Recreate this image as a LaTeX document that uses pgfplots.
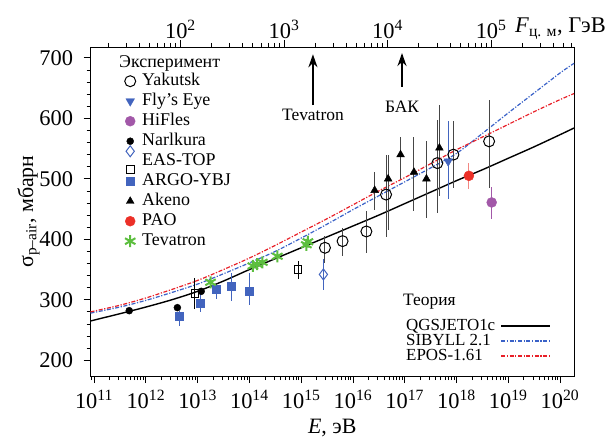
\documentclass[border=0pt]{standalone}
\usepackage{fontspec}
\setmainfont{Liberation Serif}
\usepackage{pgfplots}
\pgfplotsset{compat=1.18}
\usetikzlibrary{arrows.meta}

\definecolor{cblue}{RGB}{66,100,190}
\definecolor{cpurple}{RGB}{162,88,168}
\definecolor{cred}{RGB}{236,48,40}
\definecolor{cpink}{RGB}{242,135,130}
\definecolor{cgreen}{RGB}{92,190,62}
\definecolor{cgray}{RGB}{70,70,70}
\definecolor{sibblue}{RGB}{58,98,200}
\definecolor{eposred}{RGB}{232,32,40}

\pgfplotsset{
  mk/.style={only marks,
    legend image code/.code={\path[use as bounding box, draw=none, fill=none] (-5bp,-4bp) rectangle (5bp,4bp);
      \draw[overlay,##1] plot coordinates {(0bp,0bp)};}},
  ebar/.style={error bars/y dir=both, error bars/y explicit, error bars/error mark=none,
    error bars/error bar style={line width=1bp, color=#1}},
}

\begin{document}
\begin{tikzpicture}
\path[use as bounding box] (-90.5bp,-65bp) rectangle (519.5bp,376bp);
\begin{axis}[
  at={(0,0)}, anchor=south west, scale only axis,
  width=483.5bp, height=329bp,
  xmode=log, xmin=8.55e10, xmax=1.862e20,
  ymin=174, ymax=718,
  clip=false,
  axis line style={line width=0.8bp},
  every tick/.style={black, line width=0.8bp},
  major tick length=7bp, minor tick length=4bp,
  tick align=outside,
  xtick pos=bottom, ytick pos=left,
  ytick={200,300,400,500,600,700},
  yticklabels={200,300,400,500,600,700},
  minor y tick num=4,
  log number format basis/.code 2 args={#1\textsuperscript{\pgfmathprintnumber[assume math mode=true]{#2}}},
  tick label style={font=\fontsize{22.5}{24}\selectfont},
  xticklabel shift=4bp, yticklabel shift=7bp,
  xlabel={\textit{E}, эВ},
  ylabel={σ\textsubscript{p–air}, мбарн},
  xlabel shift=4bp, ylabel shift=-7bp,
  label style={font=\fontsize{22}{24}\selectfont},
  legend style={draw=none, fill=none, at={(rel axis cs:0.0652,0.927)}, anchor=north west,
    font=\fontsize{18}{18}\selectfont, row sep=4bp, column sep=7bp,
    nodes={inner sep=0pt, text height=12bp, text depth=4bp}},
  legend cell align=left,
]
% theory curves
\addplot[black, line width=1.4bp, smooth, forget plot] coordinates {
(8.55e10,265) (3.16e11,277) (1e12,288) (3.16e12,300) (1e13,314) (3.16e13,331)
(1e14,350) (3.16e14,368) (1e15,386) (3.16e15,404) (1e16,422) (3.16e16,440)
(1e17,459) (3.16e17,478) (1e18,497) (3.16e18,515) (1e19,534) (3.16e19,553)
(1e20,573) (1.862e20,584)};
\addplot[sibblue, line width=1.2bp, dash pattern=on 4bp off 1.6bp on 1.2bp off 1.6bp, smooth, forget plot] coordinates {
(8.55e10,278) (3.16e11,288) (1e12,299) (3.16e12,312) (1e13,326) (3.16e13,343)
(1e14,361) (3.16e14,380) (1e15,402) (3.16e15,425) (1e16,449) (3.16e16,472)
(1e17,495) (3.16e17,518) (1e18,542) (3.16e18,575) (1e19,609) (3.16e19,642)
(1e20,675) (1.862e20,691)};
\addplot[eposred, line width=1.2bp, dash pattern=on 4bp off 1.6bp on 1.2bp off 1.6bp, smooth, forget plot] coordinates {
(8.55e10,280) (3.16e11,291) (1e12,303) (3.16e12,317) (1e13,332) (3.16e13,350)
(1e14,369) (3.16e14,390) (1e15,412) (3.16e15,434) (1e16,457) (3.16e16,480)
(1e17,502) (3.16e17,525) (1e18,548) (3.16e18,569) (1e19,590) (3.16e19,611)
(1e20,631) (1.862e20,641)};

% Yakutsk
\addplot[mk, black, mark=o, mark size=5.5bp, mark options={fill=white, line width=1bp},
  ebar=cgray] coordinates {
(2.884e15,386) += (0,19) -= (0,25)
(6.31e15,397) += (0,22) -= (0,25)
(1.82e16,413) += (0,33) -= (0,35)
(4.365e16,474) += (0,66) -= (0,70)
(4.266e17,526) += (0,72) -= (0,82)
(8.71e17,540) += (0,55) -= (0,55)
(4.266e18,562) += (0,69) -= (0,77)};
\addlegendentry{Yakutsk}
% Fly's Eye
\addplot[mk, cblue, mark=triangle*, mark size=5bp, mark options={rotate=180},
  ebar=cblue] coordinates {
(6.92e17,529) += (0,66) -= (0,63)};
\addlegendentry{Fly’s Eye}
% HiFles
\addplot[mk, cpurple, mark=*, mark size=5bp, ebar=cpurple] coordinates {
(4.786e18,461) += (0,26) -= (0,27)};
\addlegendentry{HiFles}
% Narlkura
\addplot[mk, black, mark=*, mark size=3.5bp] coordinates {
(4.786e11,282) (4.07e12,287) (1.175e13,314)};
\addlegendentry{Narlkura}
% EAS-TOP diamond
\addplot[forget plot, mk, cblue, mark=diamond, mark size=5.5bp, mark options={fill=white, line width=1bp},
  ebar=cblue] coordinates {
(2.69e15,342) += (0,25) -= (0,25)};
% EAS-TOP square
\addplot[only marks, black, mark=square, mark size=3.8bp, mark options={fill=white, line width=1bp},
  ebar=black,
  legend image code/.code={\path[use as bounding box, draw=none, fill=none] (-5bp,-4bp) rectangle (5bp,4bp);
    \draw[overlay, cblue, mark=diamond, mark size=5.5bp, mark options={fill=white, line width=1bp}] plot coordinates {(0bp,10bp)};
    \draw[overlay, black, mark=square, mark size=3.8bp, mark options={fill=white, line width=1bp}] plot coordinates {(0bp,-8bp)};}
  ] coordinates {
(8.91e12,310) += (0,26) -= (0,25)
(8.71e14,350) += (0,14) -= (0,15)};
\addlegendentry{EAS-TOP}
% ARGO-YBJ
\addplot[mk, cblue, mark=square*, mark size=4bp, ebar=cblue] coordinates {
(4.47e12,273) += (0,8) -= (0,16)
(1.12e13,294) += (0,15) -= (0,15)
(2.29e13,317) += (0,8) -= (0,16)
(4.47e13,323) += (0,22) -= (0,25)
(1.0e14,315) += (0,30) -= (0,23)};
\addlegendentry{ARGO-YBJ}
% Akeno
\addplot[mk, black, mark=triangle*, mark size=4.5bp, ebar=cgray] coordinates {
(2.63e16,481) += (0,31) -= (0,32)
(4.79e16,500) += (0,40) -= (0,84)
(8.32e16,540) += (0,30) -= (0,40)
(1.51e17,511) += (0,58) -= (0,65)
(2.63e17,500) += (0,62) -= (0,65)
(4.68e17,551) += (0,71) -= (0,80)};
\addlegendentry{Akeno}
% PAO
\addplot[mk, cred, mark=*, mark size=5bp, ebar=cpink] coordinates {
(1.738e18,505) += (0,21) -= (0,22)};
\addlegendentry{PAO}
% Tevatron
\addplot[mk, cgreen, mark=asterisk, mark size=6bp, mark options={line width=2bp}] coordinates {
(1.78e13,329) (1.17e14,356) (1.41e14,359) (1.78e14,362) (3.47e14,372)
(1.26e15,391) (1.35e15,396)};
\addlegendentry{Tevatron}

\node[anchor=base west, font=\fontsize{18}{18}\selectfont, inner sep=0pt] at (rel axis cs:0.059,0.939) {Эксперимент};
\node[anchor=base west, font=\fontsize{17.5}{18}\selectfont, inner sep=0pt] at (rel axis cs:0.6463,0.2128) {Теория};

% arrows
\draw[-{Stealth[length=13bp,width=9bp]}, line width=2bp, black] (axis cs:1.69e15,622) -- (axis cs:1.69e15,706);
\draw[-{Stealth[length=13bp,width=9bp]}, line width=2bp, black] (axis cs:8.87e16,652) -- (axis cs:8.87e16,708);
\node[font=\fontsize{17.5}{18}\selectfont] at (axis cs:1.69e15,606) {Tevatron};
\node[font=\fontsize{17.5}{18}\selectfont] at (axis cs:8.87e16,619) {БАК};
\end{axis}

\begin{axis}[
  at={(0,0)}, anchor=south west, scale only axis,
  width=483.5bp, height=329bp,
  xmode=log, xmin=13.54, xmax=6.313e5,
  ymin=0, ymax=1,
  clip=false,
  axis x line*=top, axis y line=none,
  axis line style={line width=0.8bp},
  every tick/.style={black, line width=0.8bp},
  major tick length=7bp, minor tick length=4bp,
  tick align=outside,
  log number format basis/.code 2 args={#1\textsuperscript{\pgfmathprintnumber[assume math mode=true]{#2}}},
  tick label style={font=\fontsize{22.5}{24}\selectfont},
  xticklabel shift=-2bp,
  legend style={draw=none, fill=none, at={(rel axis cs:0.6463,0.1763)}, anchor=north west,
    font=\fontsize{17}{18}\selectfont, row sep=3.5bp, column sep=6bp,
    nodes={inner sep=0pt, text height=10bp, text depth=1.5bp}},
  legend cell align=left,
  legend plot pos=right,
  legend image code/.code={\path[use as bounding box, draw=none, fill=none] (0bp,-2bp) rectangle (49bp,2bp);
    \draw[#1] (0bp,0bp) -- (49bp,0bp);},
]
\addlegendimage{black, line width=1.4bp}
\addlegendentry{QGSJETO1c}
\addlegendimage{sibblue, line width=1.2bp, dash pattern=on 4bp off 1.6bp on 1.2bp off 1.6bp}
\addlegendentry{SIBYLL 2.1}
\addlegendimage{eposred, line width=1.2bp, dash pattern=on 4bp off 1.6bp on 1.2bp off 1.6bp}
\addlegendentry{EPOS-1.61}
\node[anchor=base west, font=\fontsize{22.5}{24}\selectfont, inner sep=0pt] at (rel axis cs:0.878,1) [yshift=14bp] {\textit{F}\textsubscript{ц. м}, ГэВ};
\end{axis}
\end{tikzpicture}
\end{document}
